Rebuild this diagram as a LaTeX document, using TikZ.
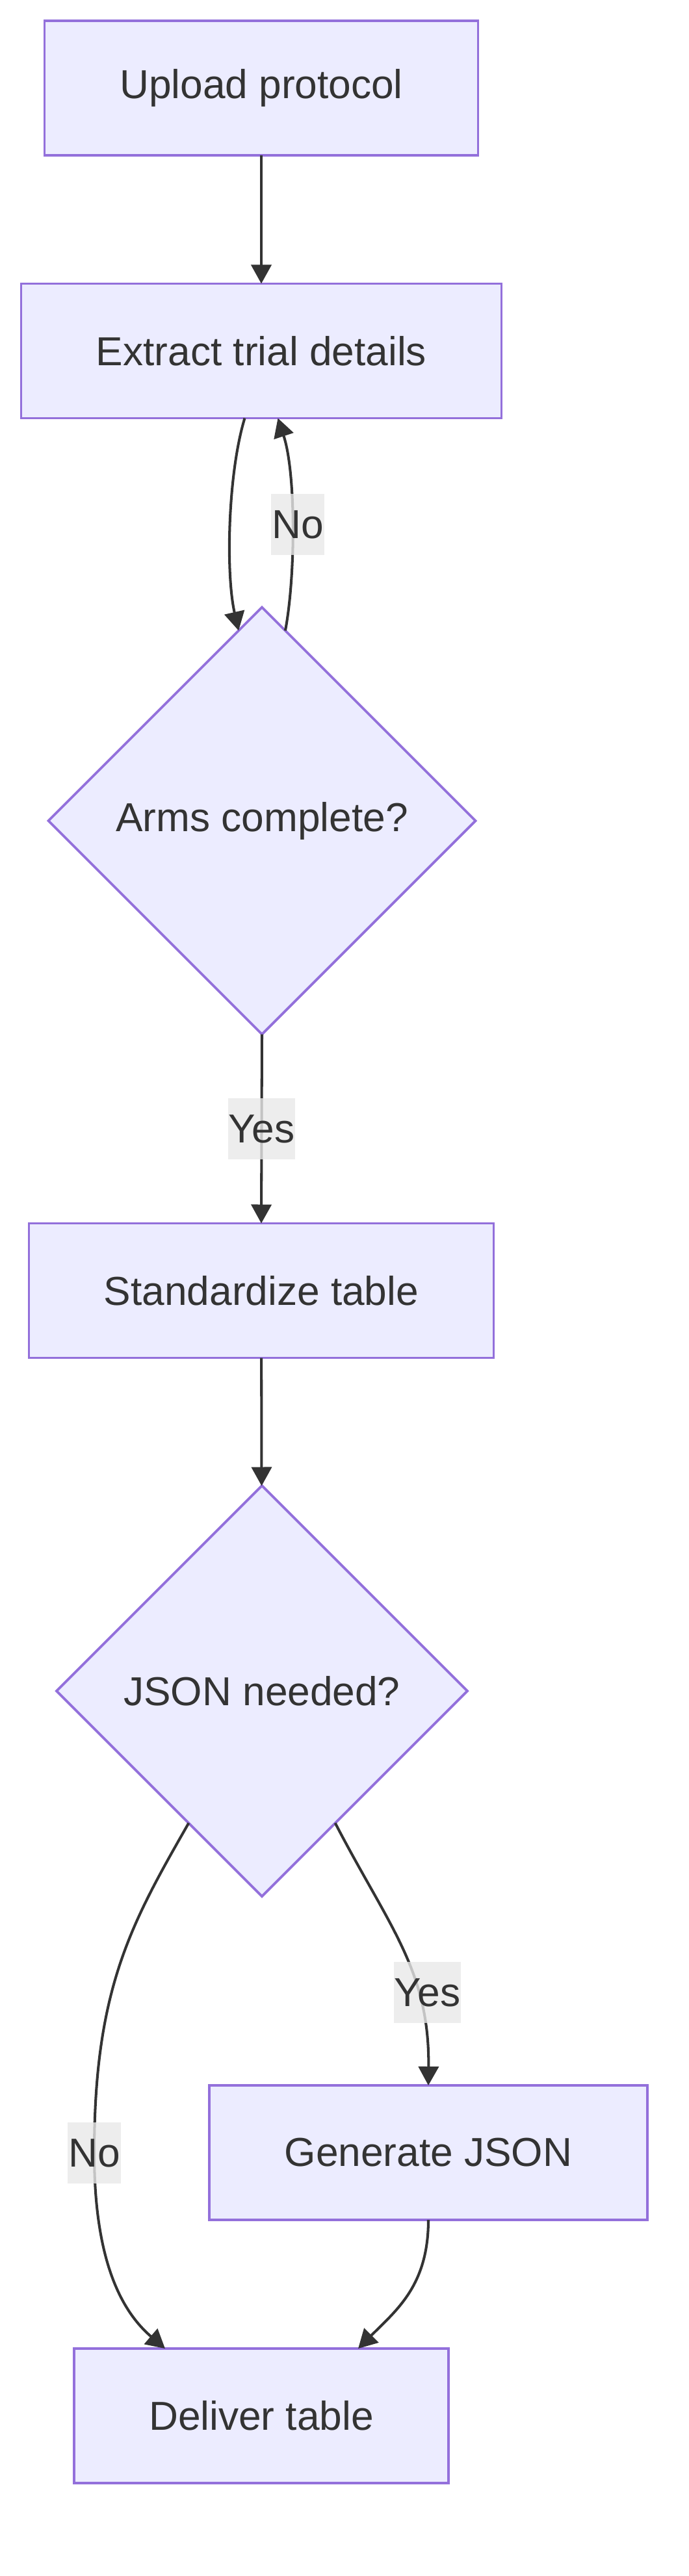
\documentclass[tikz,border=0pt]{standalone}
\usepackage{fontspec}
\setmainfont{Liberation Sans}
\usepackage{xcolor}
\definecolor{nodefill}{HTML}{ECECFF}
\definecolor{nodeline}{HTML}{9370DB}
\definecolor{ink}{HTML}{333333}
\definecolor{labelbg}{HTML}{E8E8E8}
\usepackage{tikz}
\usetikzlibrary{
  arrows.meta,
  positioning,
  shapes.geometric
}

\begin{document}
\begin{tikzpicture}[
  proc/.style={rectangle, draw=nodeline, fill=nodefill, line width=1.1pt, text=ink, font=\fontsize{17.7}{21}\selectfont, minimum height=2.07cm, outer sep=0pt, align=center},
  decision/.style={diamond, draw=nodeline, fill=nodefill, line width=1.1pt, text=ink, font=\fontsize{17.7}{21}\selectfont, aspect=1, inner sep=0pt, outer sep=0pt, align=center},
  lbl/.style={rectangle, fill=labelbg, fill opacity=0.8, text opacity=1, text=ink, font=\fontsize{17.7}{21}\selectfont, inner xsep=0.3pt, inner ysep=0pt, minimum height=0.94cm},
  arr/.style={-{Triangle[length=2.9mm, width=3.1mm]}, line width=1.15pt, ink},
]
\useasboundingbox (0,0) rectangle (10.6,-39.64);

% Boxes (main column)
\node[proc, minimum width=6.67cm] (upload) at (4.02, -1.355) {Upload protocol};
\node[proc, minimum width=7.39cm] (extract) at (4.02, -5.40) {Extract trial details};
\node[proc, minimum width=7.15cm] (stdz) at (4.02, -19.86) {Standardize table};
\node[proc, minimum width=5.76cm] (deliver) at (4.02, -37.175) {Deliver table};

% Box (right branch)
\node[proc, minimum width=6.74cm] (genjson) at (6.59, -33.125) {Generate JSON};

% Decisions
\node[decision, minimum width=6.57cm, minimum height=6.57cm] (arms) at (4.03, -12.63) {Arms complete?};
\node[decision, minimum width=6.32cm, minimum height=6.32cm] (jsonq) at (4.03, -26.02) {JSON needed?};

% Arrows
\draw[arr] (upload) -- (extract);
\draw[arr] ([xshift=-2.55mm]extract.south) .. controls +(-0.26,-0.85) and +(-0.20,0.88) .. (arms.97.4);
\draw[arr] (arms.83.2) .. controls +(0.16,0.85) and +(0.28,-0.85) .. node[lbl, pos=0.5, xshift=0.85mm] (lno) {No} ([xshift=2.55mm]extract.south);
\draw[arr] (arms.south) -- node[lbl] (lyes) {Yes} (stdz.north);
\draw[arr] (stdz) -- (jsonq);

% JSON branches
\draw[arr] (jsonq.-61.5) .. controls +(0.83,-1.60) and +(0.02,1.77) .. node[lbl, pos=0.68, xshift=1.5mm] (lyes2) {Yes} (genjson.north);
\draw[arr] (jsonq.-119.6) .. controls +(-0.88,-1.54) and +(0,2.53) .. (1.45,-33.13) node[lbl] (lno2) {No}
  .. controls +(0,-1.6) and +(-0.7,0.6) .. ([xshift=-14.8mm]deliver.north);
\draw[arr] (genjson.south) .. controls +(0,-1.0) and +(0.6,0.6) .. ([xshift=14.9mm]deliver.north);

\end{tikzpicture}
\end{document}
